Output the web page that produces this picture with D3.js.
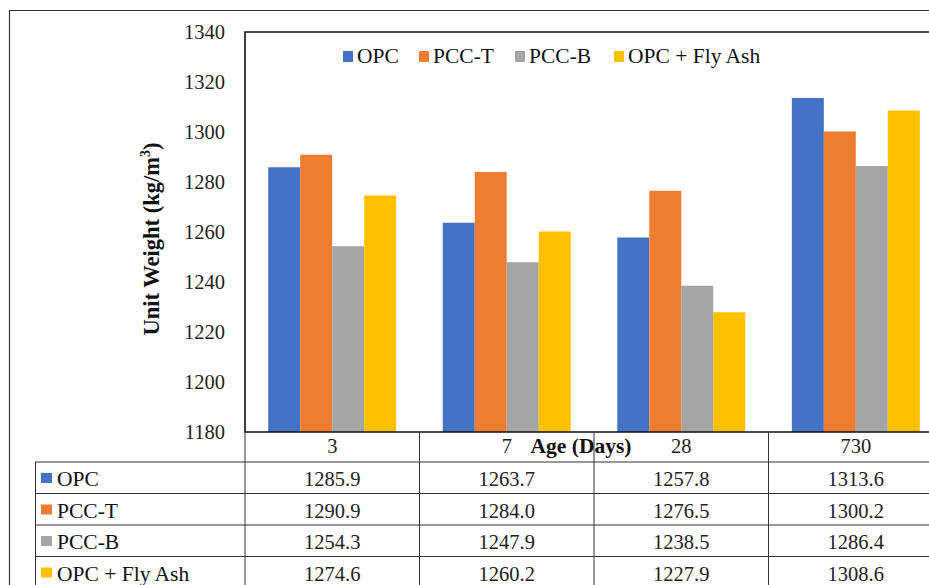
<!DOCTYPE html>
<html>
<head>
<meta charset="utf-8">
<script src="https://cdn.jsdelivr.net/npm/d3@7"></script>
<style>
  body { margin: 0; background: #fff; }
  text { font-family: "Liberation Serif", "Times New Roman", Times, serif; }
</style>
</head>
<body>
<div id="chart"></div>
<script>
// ----- DATA
var categories = ["3", "7", "28", "730"];
var seriesNames = ["OPC", "PCC-T", "PCC-B", "OPC + Fly Ash"];
var valuesOPC = [1285.9, 1263.7, 1257.8, 1313.6];
var valuesPCCT = [1290.9, 1284.0, 1276.5, 1300.2];
var valuesPCCB = [1254.3, 1247.9, 1238.5, 1286.4];
var valuesFlyAsh = [1274.6, 1260.2, 1227.9, 1308.6];
var yTicks = [1180, 1200, 1220, 1240, 1260, 1280, 1300, 1320, 1340];

var seriesValues = [valuesOPC, valuesPCCT, valuesPCCB, valuesFlyAsh];
var colors = ["#4472C4", "#ED7D31", "#A5A5A5", "#FFC000"];

// ----- LAYOUT
var W = 929, H = 585;
var plot = { left: 245, right: 943, top: 32, bottom: 432 };
var rowH = 31.5;
var tableLeft = 35;
var fs = 20.5;

var svg = d3.select("#chart").append("svg")
    .attr("width", W)
    .attr("height", H);

// outer frame
svg.append("path")
    .attr("d", "M9.5," + (H + 5) + "V10.5H" + (W + 5))
    .attr("fill", "none")
    .attr("stroke", "#333")
    .attr("stroke-width", 1.2);

// scales
var x0 = d3.scaleBand()
    .domain(categories)
    .range([plot.left, plot.right])
    .paddingInner(0.267)
    .paddingOuter(0.133);
var xCat = d3.scaleBand()
    .domain(categories)
    .range([plot.left, plot.right]);
var x1 = d3.scaleBand()
    .domain(seriesNames)
    .range([0, x0.bandwidth()]);
var y = d3.scaleLinear()
    .domain([1180, 1340])
    .range([plot.bottom, plot.top]);

// y axis labels
var yAxis = d3.axisLeft(y)
    .tickValues(yTicks)
    .tickFormat(d3.format("d"))
    .tickSize(0)
    .tickPadding(20);
var gy = svg.append("g")
    .attr("transform", "translate(" + plot.left + ",0)")
    .call(yAxis);
gy.select(".domain").remove();
gy.attr("font-family", null).attr("font-size", null);
gy.selectAll("text")
    .attr("font-size", fs)
    .attr("fill", "#222");

// y title
var yTitle = svg.append("text")
    .attr("transform", "translate(159,239) rotate(-90)")
    .attr("text-anchor", "middle")
    .attr("font-size", 22.5)
    .attr("font-weight", "bold")
    .attr("fill", "#111");
yTitle.append("tspan").text("Unit Weight (kg/m");
yTitle.append("tspan").attr("dy", -9).attr("font-size", 14).text("3");
yTitle.append("tspan").attr("dy", 9).text(")");

// bars
seriesNames.forEach(function (name, si) {
    svg.append("g")
        .selectAll("rect")
        .data(seriesValues[si])
        .join("rect")
        .attr("x", function (d, i) { return x0(categories[i]) + x1(name); })
        .attr("y", function (d) { return y(d); })
        .attr("width", x1.bandwidth())
        .attr("height", function (d) { return y(1180) - y(d); })
        .attr("fill", colors[si]);
});

// plot frame
svg.append("path")
    .attr("d", "M" + (W + 5) + "," + plot.top + "H" + plot.left + "V" + plot.bottom + "H" + (W + 5))
    .attr("fill", "none")
    .attr("stroke", "#111")
    .attr("stroke-width", 1.6);

// legend
var legendX = [343, 419, 515, 614];
var legend = svg.append("g");
seriesNames.forEach(function (name, i) {
    legend.append("rect")
        .attr("x", legendX[i])
        .attr("y", 51)
        .attr("width", 10)
        .attr("height", 11)
        .attr("fill", colors[i]);
    legend.append("text")
        .attr("x", legendX[i] + 14)
        .attr("y", 63)
        .attr("font-size", 21.5)
        .attr("fill", "#111")
        .text(name);
});

// ----- DATA TABLE
var tableTop = plot.bottom + rowH - 1.5;
var table = svg.append("g");

// header labels
categories.forEach(function (c) {
    table.append("text")
        .attr("x", xCat(c) + xCat.bandwidth() / 2)
        .attr("y", plot.bottom + 21)
        .attr("text-anchor", "middle")
        .attr("font-size", fs)
        .attr("fill", "#222")
        .text(c);
});

// rows
seriesNames.forEach(function (name, si) {
    var ry = tableTop + si * rowH;
    table.append("rect")
        .attr("x", 41)
        .attr("y", ry + 11)
        .attr("width", 11)
        .attr("height", 10)
        .attr("fill", colors[si]);
    table.append("text")
        .attr("x", 57)
        .attr("y", ry + 24)
        .attr("font-size", 21.5)
        .attr("fill", "#111")
        .text(name);
    seriesValues[si].forEach(function (v, i) {
        table.append("text")
            .attr("x", xCat(categories[i]) + xCat.bandwidth() / 2)
            .attr("y", ry + 24)
            .attr("text-anchor", "middle")
            .attr("font-size", fs)
            .attr("fill", "#222")
            .text(v.toFixed(1));
    });
});

// table grid lines
for (var r = 0; r <= seriesNames.length; r++) {
    table.append("line")
        .attr("x1", tableLeft)
        .attr("x2", W + 5)
        .attr("y1", tableTop + r * rowH)
        .attr("y2", tableTop + r * rowH)
        .attr("stroke", "#333")
        .attr("stroke-width", 1);
}
table.append("line")
    .attr("x1", tableLeft + 0.5).attr("x2", tableLeft + 0.5)
    .attr("y1", tableTop).attr("y2", H + 5)
    .attr("stroke", "#333");
categories.forEach(function (c) {
    table.append("line")
        .attr("x1", xCat(c)).attr("x2", xCat(c))
        .attr("y1", plot.bottom).attr("y2", H + 5)
        .attr("stroke", "#333");
});

// x title
svg.append("text")
    .attr("x", 581)
    .attr("y", plot.bottom + 21)
    .attr("text-anchor", "middle")
    .attr("font-size", 21.5)
    .attr("font-weight", "bold")
    .attr("fill", "#111")
    .text("Age (Days)");
</script>
</body>
</html>
